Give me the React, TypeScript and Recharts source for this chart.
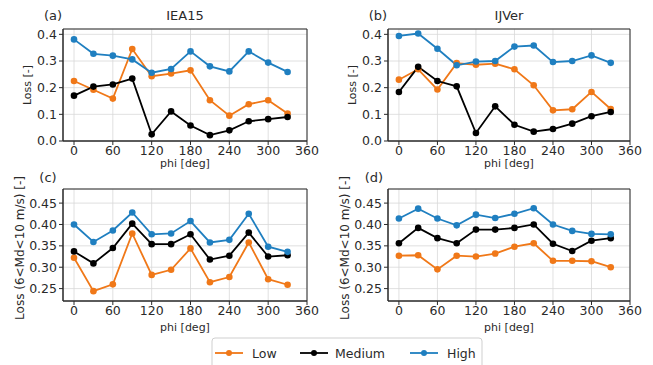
import React from "react";
import {
  LineChart,
  Line,
  XAxis,
  YAxis,
  CartesianGrid,
  ReferenceArea,
} from "recharts";

// wind direction (deg)
const PHI = [0, 30, 60, 90, 120, 150, 180, 210, 240, 270, 300, 330];
const PHI_TICKS = [0, 60, 120, 180, 240, 300, 360];

// (a) IEA15, loss [-]
const IEA15_LOW = [0.225, 0.192, 0.159, 0.345, 0.243, 0.253, 0.265, 0.153, 0.095, 0.138, 0.153, 0.103];
const IEA15_MEDIUM = [0.17, 0.204, 0.212, 0.234, 0.025, 0.111, 0.058, 0.022, 0.04, 0.074, 0.082, 0.09];
const IEA15_HIGH = [0.381, 0.327, 0.32, 0.306, 0.256, 0.27, 0.336, 0.28, 0.261, 0.336, 0.294, 0.259];

// (b) IJVer, loss [-]
const IJVER_LOW = [0.23, 0.269, 0.193, 0.292, 0.286, 0.29, 0.269, 0.209, 0.115, 0.119, 0.184, 0.12];
const IJVER_MEDIUM = [0.184, 0.278, 0.225, 0.205, 0.03, 0.13, 0.061, 0.035, 0.045, 0.065, 0.093, 0.109];
const IJVER_HIGH = [0.394, 0.403, 0.346, 0.284, 0.298, 0.3, 0.354, 0.358, 0.296, 0.3, 0.321, 0.293];

// (c) IEA15, loss for 6 < Md < 10 m/s
const IEA15_MD_LOW = [0.322, 0.244, 0.26, 0.379, 0.282, 0.294, 0.344, 0.265, 0.277, 0.358, 0.272, 0.259];
const IEA15_MD_MEDIUM = [0.337, 0.309, 0.345, 0.402, 0.354, 0.354, 0.377, 0.318, 0.327, 0.381, 0.325, 0.328];
const IEA15_MD_HIGH = [0.4, 0.359, 0.386, 0.428, 0.377, 0.379, 0.408, 0.358, 0.364, 0.425, 0.348, 0.336];

// (d) IJVer, loss for 6 < Md < 10 m/s
const IJVER_MD_LOW = [0.327, 0.328, 0.295, 0.327, 0.325, 0.332, 0.348, 0.356, 0.315, 0.315, 0.314, 0.3];
const IJVER_MD_MEDIUM = [0.356, 0.392, 0.368, 0.356, 0.388, 0.388, 0.392, 0.4, 0.355, 0.338, 0.362, 0.368];
const IJVER_MD_HIGH = [0.414, 0.437, 0.414, 0.398, 0.423, 0.415, 0.425, 0.438, 0.4, 0.385, 0.378, 0.377];

const LOSS_TICKS = [0, 0.1, 0.2, 0.3, 0.4];
const MD_TICKS = [0.25, 0.3, 0.35, 0.4, 0.45];

const SERIES = [
  { key: "low", name: "Low", color: "#f07818" },
  { key: "medium", name: "Medium", color: "#000000" },
  { key: "high", name: "High", color: "#1f7fc0" },
];

const FONT = "'DejaVu Sans', sans-serif";
const INK = "#2a2a2a";

function toRows(low: number[], medium: number[], high: number[]) {
  return PHI.map((phi, i) => ({ phi, low: low[i], medium: medium[i], high: high[i] }));
}

type PanelProps = {
  rows: ReturnType<typeof toRows>;
  left: number; // plot area left edge
  top: number; // plot area top edge
  plotWidth: number;
  yDomain: [number, number];
  yTicks: number[];
  digits: number;
};

function Panel({ rows, left, top, plotWidth, yDomain, yTicks, digits }: PanelProps) {
  const padL = 63;
  const padT = 8;
  const padR = 22; // room for the "360" tick label
  const plotH = 112;
  const axisH = 30;
  const xDomain: [number, number] = [-17, 360];
  return (
    <div style={{ position: "absolute", left: left - padL, top: top - padT }}>
      <LineChart
        width={padL + plotWidth + padR}
        height={padT + plotH + axisH}
        data={rows}
        margin={{ top: padT, right: padR, bottom: 0, left: 0 }}
        style={{ overflow: "visible" }}
      >
        <CartesianGrid stroke="#d8d8d8" strokeWidth={0.8} />
        <XAxis
          dataKey="phi"
          type="number"
          domain={xDomain}
          ticks={PHI_TICKS}
          interval={0}
          allowDataOverflow
          height={axisH}
          tickSize={4}
          tickMargin={1}
          stroke={INK}
          tick={{ fill: INK, fontSize: 12.5, fontFamily: FONT }}
        />
        <YAxis
          type="number"
          domain={yDomain}
          ticks={yTicks}
          interval={0}
          allowDataOverflow
          width={padL}
          tickSize={4}
          tickMargin={2}
          stroke={INK}
          tickFormatter={(v: number) => v.toFixed(digits)}
          tick={{ fill: INK, fontSize: 12.5, fontFamily: FONT }}
        />
        {SERIES.map((s) => (
          <Line
            key={s.key}
            type="linear"
            dataKey={s.key}
            stroke={s.color}
            strokeWidth={1.8}
            dot={{ r: 3.3, fill: s.color, stroke: s.color, strokeWidth: 0 }}
            activeDot={false}
            isAnimationActive={false}
          />
        ))}
        <ReferenceArea
          x1={xDomain[0]}
          x2={xDomain[1]}
          y1={yDomain[0]}
          y2={yDomain[1]}
          fill="none"
          stroke={INK}
          strokeWidth={1}
        />
      </LineChart>
    </div>
  );
}

function Overlay() {
  const label = { fill: INK, fontFamily: FONT } as const;
  const legendItems = [
    { x: 215, tx: 252 },
    { x: 300, tx: 335 },
    { x: 410, tx: 447 },
  ];
  return (
    <svg
      width={653}
      height={365}
      style={{ position: "absolute", left: 0, top: 0, pointerEvents: "none" }}
    >
      {/* panel tags and titles */}
      <text x={53} y={15} fontSize={13} textAnchor="middle" dominantBaseline="central" {...label}>(a)</text>
      <text x={185} y={15} fontSize={13} textAnchor="middle" dominantBaseline="central" {...label}>IEA15</text>
      <text x={378} y={15} fontSize={13} textAnchor="middle" dominantBaseline="central" {...label}>(b)</text>
      <text x={509} y={15} fontSize={13} textAnchor="middle" dominantBaseline="central" {...label}>IJVer</text>
      <text x={48} y={177} fontSize={13} textAnchor="middle" dominantBaseline="central" {...label}>(c)</text>
      <text x={374} y={177} fontSize={13} textAnchor="middle" dominantBaseline="central" {...label}>(d)</text>

      {/* x labels */}
      <text x={185} y={163} fontSize={11} textAnchor="middle" dominantBaseline="central" {...label}>phi [deg]</text>
      <text x={509} y={163} fontSize={11} textAnchor="middle" dominantBaseline="central" {...label}>phi [deg]</text>
      <text x={185} y={327} fontSize={11} textAnchor="middle" dominantBaseline="central" {...label}>phi [deg]</text>
      <text x={509} y={327} fontSize={11} textAnchor="middle" dominantBaseline="central" {...label}>phi [deg]</text>

      {/* y labels */}
      <text transform="translate(27,85) rotate(-90)" fontSize={11} textAnchor="middle" dominantBaseline="central" {...label}>Loss [-]</text>
      <text transform="translate(352,85) rotate(-90)" fontSize={11} textAnchor="middle" dominantBaseline="central" {...label}>Loss [-]</text>
      <text transform="translate(20,248) rotate(-90)" fontSize={12} textAnchor="middle" dominantBaseline="central" {...label}>Loss (6&lt;Md&lt;10 m/s) [-]</text>
      <text transform="translate(345,248) rotate(-90)" fontSize={12} textAnchor="middle" dominantBaseline="central" {...label}>Loss (6&lt;Md&lt;10 m/s) [-]</text>

      {/* legend */}
      <rect x={212} y={338} width={270} height={32} rx={3} fill="white" stroke="#cfcfcf" />
      {SERIES.map((s, i) => (
        <g key={s.key}>
          <line x1={legendItems[i].x} x2={legendItems[i].x + 28} y1={353} y2={353} stroke={s.color} strokeWidth={1.8} />
          <circle cx={legendItems[i].x + 14} cy={353} r={3} fill={s.color} />
          <text x={legendItems[i].tx} y={353} fontSize={12.5} dominantBaseline="central" {...label}>{s.name}</text>
        </g>
      ))}
    </svg>
  );
}

export default function App() {
  return (
    <div
      style={{
        position: "absolute",
        left: 0,
        top: 0,
        width: 653,
        height: 365,
        background: "white",
        overflow: "hidden",
      }}
    >
      <Panel rows={toRows(IEA15_LOW, IEA15_MEDIUM, IEA15_HIGH)} left={63} top={29} plotWidth={244} yDomain={[0, 0.42]} yTicks={LOSS_TICKS} digits={1} />
      <Panel rows={toRows(IJVER_LOW, IJVER_MEDIUM, IJVER_HIGH)} left={388} top={29} plotWidth={242} yDomain={[0, 0.42]} yTicks={LOSS_TICKS} digits={1} />
      <Panel rows={toRows(IEA15_MD_LOW, IEA15_MD_MEDIUM, IEA15_MD_HIGH)} left={63} top={189} plotWidth={244} yDomain={[0.221, 0.483]} yTicks={MD_TICKS} digits={2} />
      <Panel rows={toRows(IJVER_MD_LOW, IJVER_MD_MEDIUM, IJVER_MD_HIGH)} left={388} top={189} plotWidth={242} yDomain={[0.221, 0.483]} yTicks={MD_TICKS} digits={2} />
      <Overlay />
    </div>
  );
}
